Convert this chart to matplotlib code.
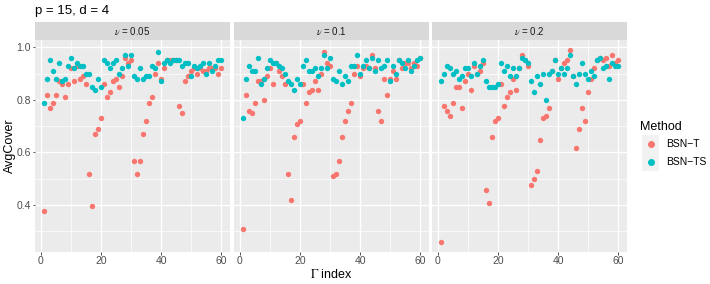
import matplotlib
matplotlib.use("Agg")
import matplotlib.pyplot as plt
from matplotlib.patches import Rectangle
from matplotlib.lines import Line2D
import numpy as np

plt.rcParams['font.family'] = ['Liberation Sans', 'DejaVu Sans']
plt.rcParams['mathtext.fontset'] = 'stix'

gamma_index = np.arange(1, 61)
facets = ['0.05', '0.1', '0.2']
methods = ['BSN\u2212T', 'BSN\u2212TS']
colors = ['#F8766D', '#00BFC4']

# nu = 0.05
t_005 = [0.377, 0.819, 0.768, 0.789, 0.819, 0.870, 0.859, 0.809, 0.859, 0.920,
         0.870, 0.930, 0.880, 0.890, 0.859, 0.518, 0.397, 0.668, 0.689, 0.729,
         0.859, 0.809, 0.829, 0.870, 0.880, 0.849, 0.890, 0.961, 0.941, 0.951,
         0.568, 0.518, 0.568, 0.668, 0.719, 0.789, 0.809, 0.900, 0.941, 0.880,
         0.920, 0.951, 0.951, 0.951, 0.951, 0.778, 0.749, 0.870, 0.890, 0.910,
         0.920, 0.900, 0.920, 0.910, 0.910, 0.920, 0.920, 0.920, 0.900, 0.920]
ts_005 = [0.789, 0.880, 0.951, 0.910, 0.880, 0.941, 0.870, 0.880, 0.930, 0.961,
          0.920, 0.941, 0.930, 0.930, 0.900, 0.900, 0.849, 0.839, 0.880, 0.849,
          0.951, 0.941, 0.920, 0.941, 0.951, 0.900, 0.920, 0.971, 0.930, 0.971,
          0.890, 0.880, 0.920, 0.880, 0.890, 0.890, 0.930, 0.920, 0.981, 0.870,
          0.941, 0.951, 0.941, 0.951, 0.951, 0.951, 0.930, 0.941, 0.941, 0.890,
          0.930, 0.920, 0.930, 0.941, 0.900, 0.941, 0.910, 0.930, 0.951, 0.951]

# nu = 0.1
t_01 = [0.306, 0.819, 0.759, 0.749, 0.789, 0.870, 0.870, 0.799, 0.890, 0.920,
        0.859, 0.941, 0.910, 0.890, 0.859, 0.518, 0.418, 0.658, 0.709, 0.719,
        0.859, 0.789, 0.829, 0.839, 0.870, 0.839, 0.900, 0.981, 0.941, 0.930,
        0.508, 0.518, 0.568, 0.658, 0.719, 0.759, 0.789, 0.900, 0.930, 0.890,
        0.920, 0.930, 0.920, 0.971, 0.920, 0.759, 0.719, 0.880, 0.819, 0.880,
        0.910, 0.880, 0.951, 0.920, 0.941, 0.941, 0.920, 0.941, 0.930, 0.961]
ts_01 = [0.729, 0.880, 0.930, 0.910, 0.910, 0.961, 0.859, 0.880, 0.920, 0.951,
         0.941, 0.941, 0.930, 0.920, 0.900, 0.870, 0.859, 0.839, 0.880, 0.859,
         0.930, 0.951, 0.910, 0.910, 0.920, 0.890, 0.920, 0.971, 0.920, 0.961,
         0.880, 0.870, 0.910, 0.859, 0.890, 0.870, 0.930, 0.930, 0.971, 0.900,
         0.930, 0.951, 0.920, 0.961, 0.910, 0.951, 0.920, 0.930, 0.951, 0.870,
         0.930, 0.900, 0.951, 0.941, 0.920, 0.951, 0.910, 0.930, 0.951, 0.961]

# nu = 0.2
t_02 = [0.257, 0.778, 0.759, 0.739, 0.789, 0.849, 0.849, 0.768, 0.870, 0.900,
        0.839, 0.930, 0.900, 0.910, 0.941, 0.457, 0.408, 0.658, 0.719, 0.729,
        0.859, 0.778, 0.809, 0.829, 0.880, 0.839, 0.920, 0.971, 0.951, 0.930,
        0.477, 0.497, 0.528, 0.648, 0.729, 0.739, 0.768, 0.910, 0.951, 0.880,
        0.920, 0.941, 0.951, 0.991, 0.890, 0.618, 0.689, 0.768, 0.719, 0.829,
        0.880, 0.920, 0.951, 0.961, 0.951, 0.961, 0.930, 0.971, 0.941, 0.951]
ts_02 = [0.870, 0.900, 0.930, 0.920, 0.900, 0.910, 0.880, 0.890, 0.920, 0.920,
         0.890, 0.941, 0.900, 0.930, 0.951, 0.870, 0.849, 0.849, 0.849, 0.859,
         0.941, 0.910, 0.930, 0.890, 0.920, 0.890, 0.920, 0.961, 0.951, 0.941,
         0.870, 0.829, 0.890, 0.859, 0.900, 0.799, 0.900, 0.910, 0.951, 0.900,
         0.920, 0.900, 0.920, 0.971, 0.890, 0.859, 0.900, 0.941, 0.900, 0.880,
         0.910, 0.890, 0.951, 0.961, 0.920, 0.930, 0.880, 0.941, 0.930, 0.930]

series = [(t_005, ts_005), (t_01, ts_01), (t_02, ts_02)]

W, H = 710, 284
fig = plt.figure(figsize=(W / 100, H / 100), dpi=100)

panel_left = [35, 234, 432]
panel_w = 195
panel_top, panel_bot = 40, 252
strip_top = 22

ymin, ymax = 0.22, 1.028
xmin, xmax = -1.95, 62.95

for k, (t_vals, ts_vals) in enumerate(series):
    x0 = panel_left[k]
    ax = fig.add_axes([x0 / W, 1 - panel_bot / H, panel_w / W, (panel_bot - panel_top) / H])
    ax.set_facecolor('#EBEBEB')
    for s in ax.spines.values():
        s.set_visible(False)
    ax.set_xlim(xmin, xmax)
    ax.set_ylim(ymin, ymax)
    ax.set_xticks([0, 20, 40, 60])
    ax.set_xticks([10, 30, 50], minor=True)
    ax.set_yticks([0.4, 0.6, 0.8, 1.0])
    ax.set_yticks([0.3, 0.5, 0.7, 0.9], minor=True)
    ax.grid(which='major', color='white', linewidth=1.0)
    ax.grid(which='minor', color='white', linewidth=0.5)
    ax.set_axisbelow(True)
    ax.tick_params(which='major', length=1.8, width=0.6, color='#333333',
                   labelsize=7.5, labelcolor='#4D4D4D', pad=1.2)
    ax.tick_params(which='minor', length=0)
    if k == 0:
        ax.set_yticklabels(['0.4', '0.6', '0.8', '1.0'])
        ax.set_ylabel('AvgCover', fontsize=9, color='black', labelpad=0)
    else:
        ax.tick_params(axis='y', which='major', length=0, labelleft=False)
    if k == 1:
        ax.set_xlabel(r'$\Gamma$ index', fontsize=9, labelpad=1)
    ax.scatter(gamma_index, t_vals, s=15, color=colors[0], linewidths=0, zorder=3)
    ax.scatter(gamma_index, ts_vals, s=15, color=colors[1], linewidths=0, zorder=3)

    sax = fig.add_axes([x0 / W, 1 - panel_top / H, panel_w / W, (panel_top - strip_top) / H])
    sax.set_facecolor('#D9D9D9')
    sax.set_xticks([])
    sax.set_yticks([])
    for s in sax.spines.values():
        s.set_visible(False)
    sax.text(0.5, 0.5, r'$\nu$ = ' + facets[k], ha='center', va='center',
             fontsize=7, color='#1A1A1A', transform=sax.transAxes)

fig.text(35 / W, 1 - 11 / H, 'p = 15, d = 4', fontsize=9.5, ha='left', va='center')

# legend
fig.text(640 / W, 1 - 127 / H, 'Method', fontsize=9, ha='left', va='center')
for j, name in enumerate(methods):
    yc = 144 + j * 18
    fig.patches.append(Rectangle((642 / W, 1 - (yc + 9) / H), 17 / W, 18 / H,
                                 transform=fig.transFigure, facecolor='#F2F2F2',
                                 edgecolor='none'))
    fig.lines.append(Line2D([650.5 / W], [1 - yc / H], transform=fig.transFigure,
                            marker='o', markersize=4, color=colors[j], linestyle='none'))
    fig.text(666 / W, 1 - yc / H, name, fontsize=7.5, ha='left', va='center')

fig.savefig('out.png', dpi=100)
